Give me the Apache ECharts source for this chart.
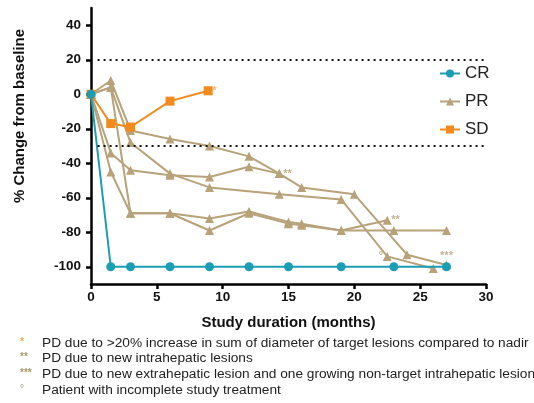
<!DOCTYPE html>
<html><head><meta charset="utf-8">
<script src="https://cdn.jsdelivr.net/npm/echarts@6/dist/echarts.min.js"></script>
<style>html,body{margin:0;padding:0;background:#fff}#c{width:534px;height:403px}</style>
</head><body><div id="c"></div>
<script>
// months, % change
const crData = [[0,0],[1.5,-100],[3,-100],[6,-100],[9,-100],[12,-100],[15,-100],[19,-100],[23,-100],[27,-100]];
const sdData = [[0,0],[1.5,-17],[3,-19],[6,-4],[8.9,2]];
const pr1 = [[0,0],[1.5,8],[3,-21],[6,-26],[9,-30],[12,-36],[14.3,-46],[16,-54],[20,-58],[24,-93],[27,-99]];
const pr2 = [[0,0],[1.5,-34],[3,-44],[6,-47],[9,-48],[12,-42],[14.3,-46]];
const pr3 = [[0,0],[1.5,4],[3,-28],[6,-46],[9,-54],[14.3,-58],[19,-61],[22.5,-94],[26,-101]];
const pr4 = [[0,0],[1.5,4],[3,-69],[6,-69],[9,-72],[12,-68],[15,-74],[16,-75],[19,-79],[22.5,-73]];
const pr5 = [[0,0],[1.5,-45],[3,-69],[6,-69],[9,-79],[12,-69],[15,-75],[16,-76],[19,-79],[23,-79],[27,-79]];
const thresholds = [20, -30];
const yTicks = [-100,-80,-60,-40,-20,0,20,40];
const annotations = [
  {x: 8.9, y: 2, text: '*', pos: 'right', color: '#f5a24a'},
  {x: 14.3, y: -46, text: '**', pos: 'right', color: '#b3a075'},
  {x: 22.5, y: -73, text: '**', pos: 'right', color: '#b3a075'},
  {x: 22.5, y: -94, text: '°', pos: 'left', color: '#b3a075'},
  {x: 27, y: -99, text: '***', pos: 'top', color: '#b3a075'}
];
const footnotes = [
  {mark: '*', text: 'PD due to >20% increase in sum of diameter of target lesions compared to nadir', color: '#f0b24a'},
  {mark: '**', text: 'PD due to new intrahepatic lesions', color: '#a89868'},
  {mark: '***', text: 'PD due to new extrahepatic lesion and one growing non-target intrahepatic lesion', color: '#a89868'},
  {mark: '°', text: 'Patient with incomplete study treatment', color: '#b8b0a0'}
];

const CR = '#1b9db3', PR = '#b7a27a', SD = '#f28a1e';
const FONT = 'Arial, "Liberation Sans", sans-serif';

function prSeries(d){
  return {name:'PR', type:'line', data:d, symbol:'triangle', symbolSize:9,
    lineStyle:{color:PR,width:2}, itemStyle:{color:PR}, z:2};
}

const chart = echarts.init(document.getElementById('c'));
chart.setOption({
  animation:false,
  textStyle:{fontFamily:FONT},
  grid:{left:91,right:48,top:8,bottom:119},
  legend:{orient:'vertical', left:434, top:60, itemGap:11, itemWidth:20, itemHeight:10,
    data:['CR','PR','SD'], textStyle:{fontSize:17,color:'#222',fontFamily:FONT}},
  xAxis:{type:'value', min:0, max:30, interval:5,
    name:'Study duration (months)', nameLocation:'middle', nameGap:31,
    nameTextStyle:{fontSize:15,fontWeight:'bold',color:'#111'},
    axisLine:{onZero:false, lineStyle:{color:'#000',width:2.5}},
    axisTick:{length:5,lineStyle:{color:'#000',width:2.5}},
    axisLabel:{fontSize:13.5,fontWeight:'bold',color:'#111',margin:6},
    splitLine:{show:false}},
  yAxis:{type:'value', min:-110, max:50, interval:10,
    axisLine:{onZero:false, lineStyle:{color:'#000',width:2.5}},
    axisTick:{length:5,lineStyle:{color:'#000',width:2.5},customValues:yTicks},
    axisLabel:{fontSize:13.5,fontWeight:'bold',color:'#111',margin:10,customValues:yTicks},
    splitLine:{show:false}},
  series:[
    prSeries(pr1), prSeries(pr2), prSeries(pr3), prSeries(pr4), prSeries(pr5),
    {name:'SD', type:'line', data:sdData, symbol:'rect', symbolSize:9,
      lineStyle:{color:SD,width:2}, itemStyle:{color:SD}, z:3},
    {name:'CR', type:'line', data:crData, symbol:'circle', symbolSize:9,
      lineStyle:{color:CR,width:2}, itemStyle:{color:CR}, z:4,
      markLine:{silent:true, symbol:'none', label:{show:false},
        lineStyle:{color:'#111',type:[2,4],width:2},
        data: thresholds.map(t=>[{coord:[0.5,t]},{coord:[30,t]}])}},
    {name:'ann', type:'scatter', symbolSize:0, z:5, silent:true,
      data: annotations.map(a=>({value:[a.x,a.y],
        label:{show:true, formatter:a.text, position:a.pos, distance:4,
          color:a.color, fontSize:11, fontWeight:'bold'}}))}
  ],
  graphic: [
    {type:'text', x:20, y:116, rotation:Math.PI/2,
      style:{text:'% Change from baseline', fill:'#111', font:'bold 15px '+FONT,
        align:'center', verticalAlign:'middle'}}
  ].concat(footnotes.flatMap((f,i)=>[
    {type:'text', left:20, top:337+i*15.6, style:{text:f.mark, fill:f.color, font:'bold 10px '+FONT}},
    {type:'text', left:42, top:336+i*15.6, style:{text:f.text, fill:'#222', font:'13.7px '+FONT}}
  ]))
});
</script></body></html>
